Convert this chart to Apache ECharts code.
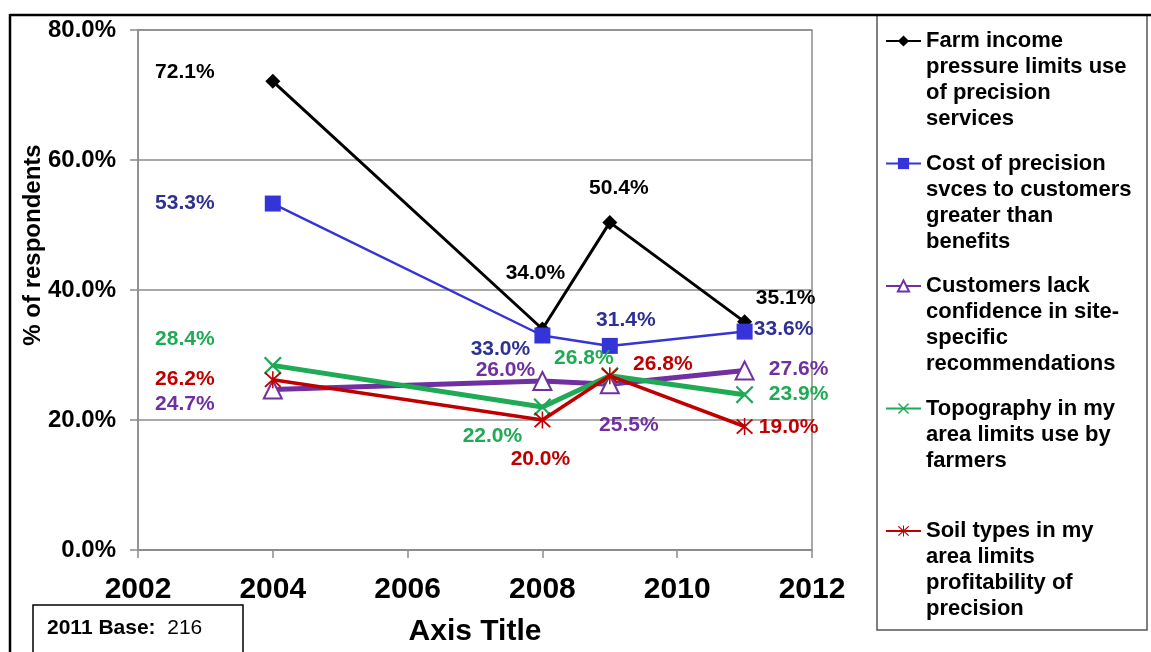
<!DOCTYPE html>
<html>
<head>
<meta charset="utf-8">
<script src="https://cdn.jsdelivr.net/npm/echarts@6/dist/echarts.min.js"></script>
<style>
html,body{margin:0;padding:0;background:#fff;}
#chart{width:1151px;height:652px;}
</style>
</head>
<body>
<div id="chart"></div>
<script>
// ---- data ----
const years = [2004, 2008, 2009, 2011];
const seriesNames = [
  'Farm income pressure limits use of precision services',
  'Cost of precision svces to customers greater than benefits',
  'Customers lack confidence in site-specific recommendations',
  'Topography in my area limits use by farmers',
  'Soil types in my area limits profitability of precision'
];
const legendLines = [
  ['Farm income', 'pressure limits use', 'of precision', 'services'],
  ['Cost of precision', 'svces to customers', 'greater than', 'benefits'],
  ['Customers lack', 'confidence in site-', 'specific', 'recommendations'],
  ['Topography in my', 'area limits use by', 'farmers', ' '],
  ['Soil types in my', 'area limits', 'profitability of', 'precision']
];
const farmIncome = [72.1, 34.0, 50.4, 35.1];
const costPrecision = [53.3, 33.0, 31.4, 33.6];
const lackConfidence = [24.7, 26.0, 25.5, 27.6];
const topography = [28.4, 22.0, 26.8, 23.9];
const soilTypes = [26.2, 20.0, 26.8, 19.0];
const yTicks = [0, 20, 40, 60, 80];
const xTicks = [2002, 2004, 2006, 2008, 2010, 2012];
const baseLabel = '2011 Base:';
const baseValue = 216;

// ---- styling / layout (not data) ----
const FONT = 'Liberation Sans, Arial, sans-serif';
const labelOffsets = [
  [[-88,-9], [-7,-56], [9,-34], [41,-24]],
  [[-88,0], [-42,14], [16,-26], [39,-2]],
  [[-88,15], [-37,-11], [19,41], [54,-1]],
  [[-88,-26], [-50,29], [-26,-18], [54,0]],
  [[-88,0], [-2,39], [53,-12], [44,1]]
];
const X_PATH = 'path://M-1,-0.82 L-0.82,-1 L0,-0.18 L0.82,-1 L1,-0.82 L0.18,0 L1,0.82 L0.82,1 L0,0.18 L-0.82,1 L-1,0.82 L-0.18,0 Z';
const STAR_PATH = 'path://M-1,-0.84 L-0.84,-1 L0,-0.16 L0.84,-1 L1,-0.84 L0.16,0 L1,0.84 L0.84,1 L0,0.16 L-0.84,1 L-1,0.84 L-0.16,0 Z M-0.09,-1.1 L0.09,-1.1 L0.09,1.1 L-0.09,1.1 Z';

const styles = [
  {line:'#000000', label:'#000000', symbol:'diamond', size:15, width:3, fill:'#000000'},
  {line:'#3434d8', label:'#2e3192', symbol:'rect', size:16, width:2.5, fill:'#3434d8'},
  {line:'#7030a0', label:'#7030a0', symbol:'triangle', size:18, width:5, fill:'#ffffff', border:'#7030a0'},
  {line:'#1faa55', label:'#1faa55', symbol:X_PATH, size:18, width:5, fill:'#1faa55'},
  {line:'#c00000', label:'#c00000', symbol:STAR_PATH, size:17, width:3.5, fill:'#c00000'}
];
const values = [farmIncome, costPrecision, lackConfidence, topography, soilTypes];

const series = values.map((vals, s) => ({
  name: seriesNames[s],
  type: 'line',
  symbol: styles[s].symbol,
  symbolSize: styles[s].size,
  z: 2 + s,
  lineStyle: {color: styles[s].line, width: styles[s].width},
  itemStyle: {
    color: styles[s].fill,
    borderColor: styles[s].border || styles[s].fill,
    borderWidth: styles[s].border ? 2 : 0
  },
  label: {
    show: true,
    position: 'inside',
    color: styles[s].label,
    fontFamily: FONT,
    fontWeight: 'bold',
    fontSize: 21,
    formatter: p => p.value[1].toFixed(1) + '%'
  },
  emphasis: {disabled: true},
  animation: false,
  data: vals.map((v, i) => ({
    value: [years[i], v],
    label: {offset: labelOffsets[s][i]}
  }))
}));

const legendText = {};
seriesNames.forEach((n, i) => { legendText[n] = '\n\n\n' + legendLines[i].join('\n'); });

const chart = echarts.init(document.getElementById('chart'), null, {renderer: 'canvas'});
chart.setOption({
  backgroundColor: '#ffffff',
  animation: false,
  grid: {
    left: 138, right: 339, top: 30, bottom: 102,
    show: true, borderColor: '#8c8c8c', borderWidth: 1.5, backgroundColor: 'transparent'
  },
  xAxis: {
    type: 'value',
    min: xTicks[0], max: xTicks[xTicks.length - 1], interval: 2,
    name: 'Axis Title',
    nameLocation: 'middle',
    nameGap: 67,
    nameMoveOverlap: false,
    nameTextStyle: {fontFamily: FONT, fontWeight: 'bold', fontSize: 30, color: '#000'},
    axisLine: {show: true, lineStyle: {color: '#8c8c8c', width: 1.5}},
    axisTick: {show: true, length: 8, inside: false, lineStyle: {color: '#8c8c8c', width: 1.5}},
    axisLabel: {
      fontFamily: FONT, fontWeight: 'bold', fontSize: 30, color: '#000', margin: 25,
      formatter: v => String(v)
    },
    splitLine: {show: false}
  },
  yAxis: {
    type: 'value',
    min: yTicks[0], max: yTicks[yTicks.length - 1], interval: 20,
    name: '% of respondents',
    nameLocation: 'middle',
    nameGap: 93,
    nameRotate: 90,
    nameMoveOverlap: false,
    nameTextStyle: {fontFamily: FONT, fontWeight: 'bold', fontSize: 24, color: '#000', padding: [0, 0, 0, 90]},
    axisLine: {show: true, lineStyle: {color: '#8c8c8c', width: 1.5}},
    axisTick: {show: true, length: 8, inside: false, lineStyle: {color: '#8c8c8c', width: 1.5}},
    axisLabel: {
      fontFamily: FONT, fontWeight: 'bold', fontSize: 24, color: '#000', margin: 22,
      formatter: v => v.toFixed(1) + '%'
    },
    splitLine: {show: true, lineStyle: {color: '#8c8c8c', width: 1.5}}
  },
  legend: {
    orient: 'vertical',
    left: 885,
    top: -50,
    padding: 0,
    itemWidth: 35,
    itemHeight: 14,
    itemGap: -59.5,
    selectedMode: false,
    data: seriesNames,
    formatter: n => legendText[n],
    textStyle: {fontFamily: FONT, fontWeight: 'bold', fontSize: 22, lineHeight: 26, color: '#000'}
  },
  graphic: [
    {type: 'rect', z: 0, shape: {x: 877, y: 15, width: 270, height: 615},
     style: {fill: '#fff', stroke: '#555', lineWidth: 1.5}},
    {type: 'line', z: 10, shape: {x1: 10, y1: 15, x2: 1151, y2: 15},
     style: {stroke: '#000', lineWidth: 2.5}},
    {type: 'line', z: 10, shape: {x1: 10, y1: 14, x2: 10, y2: 652},
     style: {stroke: '#000', lineWidth: 2.5}},
    {type: 'rect', z: 10, shape: {x: 33, y: 605, width: 210, height: 60},
     style: {fill: '#fff', stroke: '#000', lineWidth: 1.5}},
    {type: 'text', z: 11, left: 47, top: 618,
     style: {
       text: '{b|' + baseLabel + '}{r|  ' + baseValue + '}',
       rich: {
         b: {fontFamily: FONT, fontWeight: 'bold', fontSize: 21, fill: '#000'},
         r: {fontFamily: FONT, fontWeight: 'normal', fontSize: 21, fill: '#000'}
       }
     }}
  ],
  series: series
});
</script>
</body>
</html>
